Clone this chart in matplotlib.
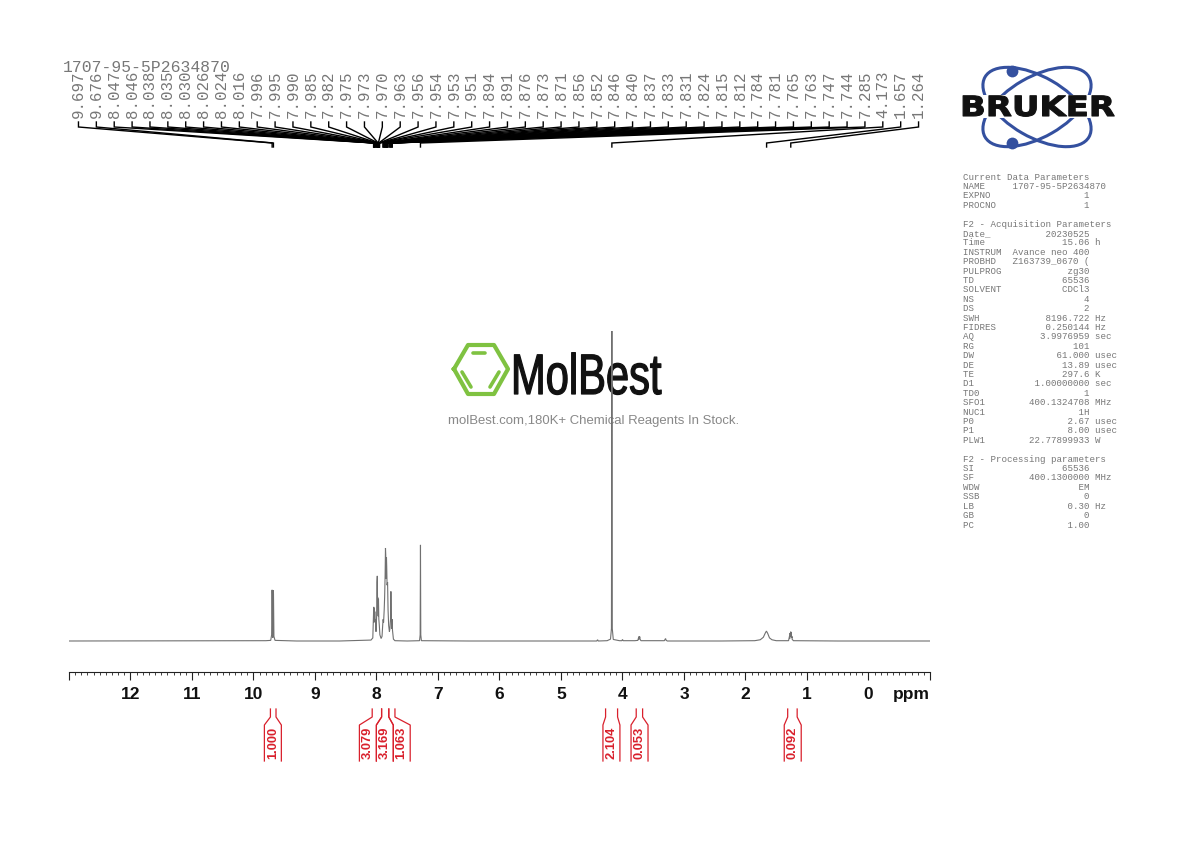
import matplotlib
matplotlib.use("Agg")
import matplotlib.pyplot as plt
import numpy as np
from matplotlib.patches import Ellipse, Rectangle
from matplotlib.patheffects import AbstractPathEffect
from matplotlib.transforms import Affine2D

W, H = 1190, 842
MONO = "Liberation Mono"
SANS = "Liberation Sans"

sample_name = "1707-95-5P2634870"

# spectrum trace, ppm / height in % of the tallest peak
trace_ppm = [13.0, 9.80, 9.72, 9.705, 9.699, 9.697, 9.695, 9.688, 9.680, 9.677, 9.675, 9.668, 9.65, 9.3, 8.6,
             8.09, 8.06, 8.048, 8.044, 8.040, 8.036, 8.032, 8.028, 8.024, 8.018, 8.008, 7.998, 7.992, 7.987, 7.983,
             7.978, 7.972, 7.968, 7.962, 7.954, 7.945, 7.925, 7.91, 7.898, 7.892, 7.885, 7.875, 7.868, 7.860, 7.854,
             7.850, 7.843, 7.838, 7.834, 7.828, 7.820, 7.812, 7.802, 7.790, 7.782, 7.772, 7.766, 7.760, 7.752,
             7.746, 7.740, 7.725, 7.70, 7.50, 7.30, 7.29, 7.285, 7.28, 7.27, 6.5, 5.6, 4.42, 4.405, 4.395, 4.25,
             4.195, 4.18, 4.175, 4.173, 4.171, 4.166, 4.15, 4.05, 4.01, 4.0, 3.99, 3.80, 3.75, 3.74, 3.735, 3.73,
             3.725, 3.72, 3.715, 3.70, 3.32, 3.30, 3.29, 3.27, 2.4, 1.85, 1.76, 1.71, 1.68, 1.66, 1.64, 1.61, 1.57,
             1.50, 1.30, 1.285, 1.28, 1.275, 1.27, 1.265, 1.26, 1.255, 1.25, 1.245, 1.24, 1.22, 0.5, -1.0]
trace_int = [0.0, 0.1, 0.2, 2.0, 16.0, 16.5, 15.0, 1.0, 13.0, 16.3, 15.0, 1.5, 0.2, 0.0, 0.0,
             0.3, 1.0, 9.0, 11.0, 6.0, 10.5, 6.5, 9.5, 6.5, 7.0, 3.0, 8.0, 19.0, 21.0, 12.0,
             14.0, 8.0, 13.5, 7.0, 5.0, 2.0, 0.8, 1.5, 5.5, 7.0, 6.0, 10.0, 14.0, 21.0, 30.0,
             28.0, 20.0, 27.0, 24.0, 18.0, 19.0, 10.0, 5.0, 3.0, 4.0, 7.0, 16.0, 9.0, 4.0,
             7.0, 3.5, 0.6, 0.1, 0.0, 0.1, 2.0, 31.0, 2.0, 0.1, 0.0, 0.0, 0.0, 0.4, 0.0, 0.1,
             0.6, 4.0, 60.0, 100.0, 60.0, 4.0, 0.5, 0.1, 0.1, 0.5, 0.1, 0.1, 0.2, 1.0, 0.5, 1.5,
             0.7, 1.4, 0.6, 0.1, 0.1, 0.8, 0.2, 0.0, 0.0, 0.1, 0.4, 1.2, 2.5, 3.2, 2.5, 1.0, 0.4,
             0.1, 0.1, 1.5, 0.8, 2.6, 1.5, 3.0, 1.5, 2.7, 1.0, 1.5, 0.5, 0.1, 0.0, 0.0]

# peak picking list, left to right
peak_ppm = [9.697, 9.676, 8.047, 8.046, 8.038, 8.035, 8.030, 8.026, 8.024, 8.016, 7.996, 7.995, 7.990, 7.985,
            7.982, 7.975, 7.973, 7.970, 7.963, 7.956, 7.954, 7.953, 7.951, 7.894, 7.891, 7.876, 7.873, 7.871,
            7.856, 7.852, 7.846, 7.840, 7.837, 7.833, 7.831, 7.824, 7.815, 7.812, 7.784, 7.781, 7.765, 7.763,
            7.747, 7.744, 7.285, 4.173, 1.657, 1.264]

# integrals: left and right limit in ppm, where the value is drawn, value
int_left = [9.725, 8.07, 7.917, 7.80, 4.275, 3.777, 1.314]
int_right = [9.634, 7.917, 7.80, 7.70, 4.08, 3.673, 1.16]
int_center = [9.685, 8.14, 7.864, 7.59, 4.18, 3.723, 1.232]
int_values = ["1.000", "3.079", "3.169", "1.063", "2.104", "0.053", "0.092"]

tick_ppm = list(range(13, -2, -1))
tick_labels = ["", "12", "11", "10", "9", "8", "7", "6", "5", "4", "3", "2", "1", "0", ""]

params = [
    ("Current Data Parameters",),
    ("NAME", sample_name, ""),
    ("EXPNO", "1", ""),
    ("PROCNO", "1", ""),
    ("",),
    ("F2 - Acquisition Parameters",),
    ("Date_", "20230525", ""),
    ("Time", "15.06", "h"),
    ("INSTRUM", "Avance neo 400", ""),
    ("PROBHD", "Z163739_0670 (", ""),
    ("PULPROG", "zg30", ""),
    ("TD", "65536", ""),
    ("SOLVENT", "CDCl3", ""),
    ("NS", "4", ""),
    ("DS", "2", ""),
    ("SWH", "8196.722", "Hz"),
    ("FIDRES", "0.250144", "Hz"),
    ("AQ", "3.9976959", "sec"),
    ("RG", "101", ""),
    ("DW", "61.000", "usec"),
    ("DE", "13.89", "usec"),
    ("TE", "297.6", "K"),
    ("D1", "1.00000000", "sec"),
    ("TD0", "1", ""),
    ("SFO1", "400.1324708", "MHz"),
    ("NUC1", "1H", ""),
    ("P0", "2.67", "usec"),
    ("P1", "8.00", "usec"),
    ("PLW1", "22.77899933", "W"),
    ("",),
    ("F2 - Processing parameters",),
    ("SI", "65536", ""),
    ("SF", "400.1300000", "MHz"),
    ("WDW", "EM", ""),
    ("SSB", "0", ""),
    ("LB", "0.30", "Hz"),
    ("GB", "0", ""),
    ("PC", "1.00", ""),
]


class Stretch(AbstractPathEffect):
    # stretch the glyph outlines, the logos are not drawn in normal proportions
    def __init__(self, kx=1.0, ky=1.0, stroke=0.0):
        self.kx, self.ky, self.stroke = kx, ky, stroke

    def draw_path(self, renderer, gc, tpath, affine, rgbFace=None):
        m = affine.get_matrix().copy()
        m[0, 0] *= self.kx
        m[1, 1] *= self.ky
        gc0 = renderer.new_gc()
        gc0.copy_properties(gc)
        gc0.set_linewidth(self.stroke)
        gc0.set_foreground(rgbFace)
        renderer.draw_path(gc0, tpath, Affine2D(m), rgbFace)
        gc0.restore()


def px_axes(x0, y0, x1, y1):
    return fig.add_axes([x0 / W, 1 - y1 / H, (x1 - x0) / W, (y1 - y0) / H])


fig = plt.figure(figsize=(W / 100, H / 100), dpi=100)

# page layer in pixels: logos, title, parameter block
page = px_axes(0, 0, W, H)
page.set_xlim(0, W)
page.set_ylim(H, 0)
page.axis("off")

page.text(63, 68, sample_name, family=MONO, fontsize=11.8, color="#777777", va="center")

for i, row in enumerate(params):
    if len(row) == 1:
        line = row[0]
    else:
        line = f"{row[0]:<9}{row[1]:>14} {row[2]}"
    page.text(963, 177 + i * 348 / 37, line, family=MONO, fontsize=6.55, color="#777777", va="center")

# Bruker logo
blue = "#34509f"
for angle in (30, -30):
    page.add_patch(Ellipse((1037, 107), 120, 60, angle=angle, fill=False, ec=blue, lw=2.2))
page.plot([1012, 1012], [71, 143], "o", color=blue, ms=8.5, mec="none")
page.add_patch(Rectangle((956, 95), 162, 23, fc="white", ec="none"))
page.text(960, 116, "BRUKER", family="DejaVu Sans", weight="bold", fontsize=20, color="#111111",
          path_effects=[Stretch(kx=1.22, stroke=0.8)])

# MolBest logo
green = "#7fc241"
page.plot([454, 468, 494, 508, 494, 468, 454], [369, 345, 345, 369, 394, 394, 369], color=green, lw=3.0,
          solid_joinstyle="round")
page.plot([473, 485], [353, 353], color=green, lw=2.6, solid_capstyle="round")
page.plot([462, 471], [372, 387], color=green, lw=2.6, solid_capstyle="round")
page.plot([499, 490], [372, 387], color=green, lw=2.6, solid_capstyle="round")
page.text(511, 394, "MolBest", family=SANS, fontsize=30, color="#111111",
          path_effects=[Stretch(kx=1.0, ky=1.37, stroke=0.9)])
page.text(594, 421, "molBest.com,180K+ Chemical Reagents In Stock.", family=SANS, fontsize=9.48, color="#888888",
          ha="center", va="center")

# spectrum and ppm scale, 3.1 px per % above the baseline at y=641
ax = px_axes(69, 320, 930, 672)
ax.patch.set_visible(False)
ax.plot(trace_ppm, trace_int, color="#707070", lw=0.8, solid_joinstyle="miter")
ax.set_xlim(13, -1)
ax.set_ylim(-(672 - 641) / 3.1, (641 - 320) / 3.1)
for s in ("top", "left", "right"):
    ax.spines[s].set_visible(False)
ax.spines["bottom"].set_linewidth(0.8)
ax.spines["bottom"].set_color("#222222")
ax.set_yticks([])
ax.set_xticks(tick_ppm)
ax.set_xticklabels(tick_labels, family=SANS, weight="bold", fontsize=12.5, color="#111111")
ax.set_xticks(np.arange(-10, 131) / 10, minor=True)
ax.tick_params(axis="x", which="major", length=5.8, width=0.8, pad=5, color="#222222")
ax.tick_params(axis="x", which="minor", length=2.2, width=0.6, color="#222222")
page.text(930, 694, "ppm", family=SANS, weight="bold", fontsize=12.5, color="#111111", ha="right", va="center")

# peak labels and their leader lines, labels are evenly spaced
top = px_axes(69, 60, 930, 150)
top.patch.set_visible(False)
top.set_xlim(13, -1)
top.set_ylim(150, 60)
top.axis("off")
label_x = np.linspace(12.846, -0.814, len(peak_ppm))
for lx, p in zip(label_x, peak_ppm):
    top.plot([lx, lx, p, p], [122, 127, 143, 147], color="black", lw=1.0, solid_joinstyle="miter")
    top.text(lx, 118, f"{p:.3f}", family=MONO, fontsize=11.3, color="#777777", rotation=90, ha="center", va="bottom")

# integrals
low = px_axes(69, 700, 930, 770)
low.patch.set_visible(False)
low.set_xlim(13, -1)
low.set_ylim(770, 700)
low.axis("off")
red = "#d9202c"
half = 0.138
for left, right, c, v in zip(int_left, int_right, int_center, int_values):
    low.plot([left, left, c + half, c + half], [709, 717, 725, 761], color=red, lw=0.9)
    low.plot([right, right, c - half, c - half], [709, 717, 725, 761], color=red, lw=0.9)
    low.text(c, 743, v, family=SANS, weight="bold", fontsize=9.3, color=red, rotation=90, ha="center", va="center")

fig.savefig("out.png", dpi=100)
